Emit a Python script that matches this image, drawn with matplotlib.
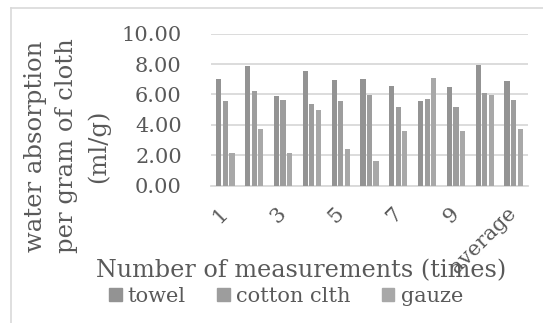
import matplotlib
matplotlib.use("Agg")
import matplotlib.pyplot as plt
from matplotlib.lines import Line2D
import numpy as np

# Measurement rounds and their water absorption (ml per gram of cloth)
categories = ["1", "2", "3", "4", "5", "6", "7", "8", "9", "10", "average"]
towel = [7.00, 7.88, 5.90, 7.55, 6.93, 7.00, 6.53, 5.58, 6.47, 7.94, 6.88]
cotton_clth = [5.60, 6.22, 5.62, 5.35, 5.55, 5.97, 5.16, 5.71, 5.16, 6.11, 5.65]
gauze = [2.15, 3.70, 2.15, 4.95, 2.43, 1.60, 3.57, 7.10, 3.57, 5.96, 3.72]
series_names = ["towel", "cotton clth", "gauze"]
y_ticks = [0, 2, 4, 6, 8, 10]

colors = ["#939393", "#9d9d9d", "#a8a8a8"]
text_color = "#595959"
grid_color = "#d9d9d9"

plt.rcParams["font.family"] = ["DejaVu Serif"]

W, H = 543, 323
fig = plt.figure(figsize=(W / 100, H / 100), dpi=100)

# chart-area border (top and left edges visible)
fig.add_artist(Line2D([11 / W, 1.0], [1 - 8 / H, 1 - 8 / H], transform=fig.transFigure,
                      color=grid_color, lw=1.2))
fig.add_artist(Line2D([11 / W, 11 / W], [0.0, 1 - 8 / H], transform=fig.transFigure,
                      color=grid_color, lw=1.2))

left, right = 211 / W, 528 / W
bottom, top = 1 - 185.7 / H, 1 - 33.7 / H
ax = fig.add_axes([left, bottom, right - left, top - bottom])

x = np.arange(len(categories))
offsets = [-0.226, 0.0, 0.226]
width = 0.18
for vals, off, col in zip([towel, cotton_clth, gauze], offsets, colors):
    ax.bar(x + off, vals, width=width, color=col, zorder=3)

ax.set_xlim(-0.5, len(categories) - 0.5)
ax.set_ylim(0, 10)
ax.set_yticks(y_ticks)
ax.set_yticklabels([f"{v:.2f}" for v in y_ticks], fontsize=15, color=text_color)
ax.yaxis.grid(True, color=grid_color, lw=1.3, zorder=0)
ax.tick_params(axis="y", length=0, pad=21)
for s in ["top", "right", "left"]:
    ax.spines[s].set_visible(False)
ax.spines["bottom"].set_color(grid_color)
ax.spines["bottom"].set_linewidth(1.3)

ax.set_xticks(x[::2])
ax.set_xticklabels(categories[::2], fontsize=15, color=text_color,
                   rotation=45, ha="right", va="center", rotation_mode="anchor")
ax.tick_params(axis="x", length=0, pad=18)

# axis titles
fig.text(67 / W, 1 - 146 / H, "water absorption\nper gram of cloth\n(ml/g)",
         rotation=90, ha="center", va="center", multialignment="center",
         fontsize=17.5, color=text_color, linespacing=1.45)
fig.text(301 / W, 1 - 271 / H, "Number of measurements (times)",
         ha="center", va="center", fontsize=17.2, color=text_color)

# legend
handles = [plt.Rectangle((0, 0), 1, 1, color=c) for c in colors]
fig.legend(handles, series_names, loc="center", bbox_to_anchor=(286 / W, 1 - 296 / H),
           ncol=3, frameon=False, fontsize=15, labelcolor=text_color,
           handlelength=0.6, handleheight=0.6, handletextpad=0.3, columnspacing=1.5,
           borderpad=0)

fig.savefig("out.png", dpi=100)
